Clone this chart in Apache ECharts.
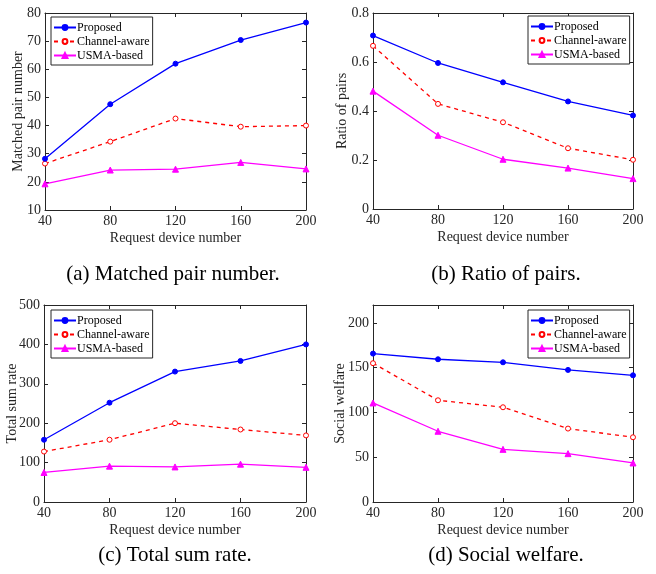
<!DOCTYPE html>
<html>
<head>
<meta charset="utf-8">
<style>
  html, body { margin: 0; padding: 0; background: #fff; }
  #chart { width: 656px; height: 574px; }
</style>
<script src="https://cdn.jsdelivr.net/npm/echarts@6/dist/echarts.min.js"></script>
</head>
<body>
<div id="chart"></div>
<script>
// Request device counts (shared x axis)
const devices = [40, 80, 120, 160, 200];
const seriesNames = ['Proposed', 'Channel-aware', 'USMA-based'];

// (a) Matched pair number
const pairsProposed = [28.2, 47.6, 62.0, 70.4, 76.6];
const pairsChannel  = [26.5, 34.3, 42.5, 39.6, 40.0];
const pairsUsma     = [19.3, 24.2, 24.5, 26.9, 24.6];

// (b) Ratio of pairs
const ratioProposed = [0.708, 0.596, 0.517, 0.439, 0.382];
const ratioChannel  = [0.666, 0.429, 0.354, 0.248, 0.201];
const ratioUsma     = [0.481, 0.301, 0.203, 0.167, 0.124];

// (c) Total sum rate
const rateProposed = [158, 252, 331, 358, 400];
const rateChannel  = [128, 158, 200, 184, 169];
const rateUsma     = [75, 91, 89, 96, 88];

// (d) Social welfare
const welfareProposed = [165.7, 159.4, 156.0, 147.5, 141.5];
const welfareChannel  = [155.0, 113.6, 105.8, 82.0, 72.3];
const welfareUsma     = [110.6, 79.0, 58.8, 54.0, 43.6];

const FONT = '"Liberation Serif", "DejaVu Serif", serif';
const AXIS = '#262626';
const TEXT = '#262626';

const panels = [
  { grid: { left: 45, top: 13, width: 261, height: 197 }, yName: 'Matched pair number', yMin: 10, yMax: 80, yInt: 10, nameGap: 20,
    data: [pairsProposed, pairsChannel, pairsUsma], legend: { left: 51, top: 17 },
    caption: '(a) Matched pair number.', capX: 168, capY: 259 },
  { grid: { left: 373, top: 13, width: 260, height: 196 }, yName: 'Ratio of pairs', yMin: 0, yMax: 0.8, yInt: 0.2, nameGap: 24,
    data: [ratioProposed, ratioChannel, ratioUsma], legend: { left: 528, top: 16 },
    caption: '(b) Ratio of pairs.', capX: 501, capY: 259 },
  { grid: { left: 44, top: 305, width: 262, height: 197 }, yName: 'Total sum rate', yMin: 0, yMax: 500, yInt: 100, nameGap: 25,
    data: [rateProposed, rateChannel, rateUsma], legend: { left: 51, top: 310 },
    caption: '(c) Total sum rate.', capX: 170, capY: 540 },
  { grid: { left: 373, top: 305, width: 260, height: 197 }, yName: 'Social welfare', yMin: 0, yMax: 220, yInt: 50, nameGap: 26,
    data: [welfareProposed, welfareChannel, welfareUsma], legend: { left: 528, top: 310 },
    caption: '(d) Social welfare.', capX: 501, capY: 540 }
];

const styles = [
  { color: '#0000ff', type: 'solid',  symbol: 'circle',   size: 5, fill: '#0000ff' },
  { color: '#ff0000', type: [4, 4],   symbol: 'circle',   size: 5, fill: '#ffffff' },
  { color: '#ff00ff', type: 'solid',  symbol: 'triangle', size: 6, fill: '#ff00ff' }
];

const option = {
  animation: false,
  backgroundColor: '#ffffff',
  textStyle: { fontFamily: FONT },
  grid: [], xAxis: [], yAxis: [], series: [], legend: [], title: []
};

function yLabel(v, p) {
  if (p.yInt < 1) return v === 0 ? '0' : v.toFixed(1);
  return String(v);
}

panels.forEach((p, i) => {
  option.grid.push(Object.assign({ show: false }, p.grid));
  const axisLine = { show: true, onZero: false, lineStyle: { color: AXIS, width: 1 } };
  const tick = { show: true, inside: true, length: 4, lineStyle: { color: AXIS } };
  const xi = option.xAxis.length;
  // bottom axis with labels
  option.xAxis.push({
    type: 'value', gridIndex: i, min: 40, max: 200, interval: 40, position: 'bottom',
    axisLine, axisTick: tick, splitLine: { show: false },
    axisLabel: { color: TEXT, fontSize: 14, fontFamily: FONT, margin: 4 },
    name: 'Request device number', nameLocation: 'middle', nameGap: 21, nameMoveOverlap: false,
    nameTextStyle: { color: TEXT, fontSize: 14, fontFamily: FONT }
  });
  // top border axis
  option.xAxis.push({
    type: 'value', gridIndex: i, min: 40, max: 200, interval: 40, position: 'top',
    axisLine, axisTick: tick, splitLine: { show: false }, axisLabel: { show: false }
  });
  const yi = option.yAxis.length;
  option.yAxis.push({
    type: 'value', gridIndex: i, min: p.yMin, max: p.yMax, interval: p.yInt, position: 'left',
    axisLine, axisTick: tick, splitLine: { show: false },
    axisLabel: { color: TEXT, fontSize: 14, fontFamily: FONT, margin: 4, showMaxLabel: p.yMax % p.yInt < 1e-9 || p.yInt < 1,
      formatter: v => yLabel(v, p) },
    name: p.yName, nameLocation: 'middle', nameGap: p.nameGap, nameMoveOverlap: false,
    nameTextStyle: { color: TEXT, fontSize: 14, fontFamily: FONT }
  });
  option.yAxis.push({
    type: 'value', gridIndex: i, min: p.yMin, max: p.yMax, interval: p.yInt, position: 'right',
    axisLine, axisTick: tick, splitLine: { show: false }, axisLabel: { show: false }
  });

  p.data.forEach((vals, k) => {
    const s = styles[k];
    option.series.push({
      id: 'p' + i + 's' + k, name: seriesNames[k], type: 'line', xAxisIndex: xi, yAxisIndex: yi,
      data: devices.map((d, j) => [d, vals[j]]),
      symbol: s.symbol, symbolSize: s.size, showSymbol: true,
      lineStyle: { color: s.color, width: 1.3, type: s.type },
      itemStyle: { color: s.fill, borderColor: s.color, borderWidth: 1 },
      clip: false, z: 3 - k
    });
  });

  option.legend.push({
    left: p.legend.left, top: p.legend.top, orient: 'vertical',
    data: seriesNames,
    backgroundColor: '#ffffff', borderColor: AXIS, borderWidth: 1, borderRadius: 0,
    padding: [4, 3, 3, 2], itemGap: 1, itemWidth: 22, itemHeight: 6,
    textStyle: { color: '#000', fontSize: 12, fontFamily: FONT, padding: [0, 0, 0, -4], lineHeight: 13 },
    selectedMode: false
  });

  option.title.push({
    text: p.caption, left: p.capX, top: p.capY, textAlign: 'center',
    textStyle: { color: '#000', fontSize: 21, fontWeight: 'normal', fontFamily: FONT }
  });
});

const chart = echarts.init(document.getElementById('chart'), null, { renderer: 'canvas' });
chart.setOption(option);
</script>
</body>
</html>
